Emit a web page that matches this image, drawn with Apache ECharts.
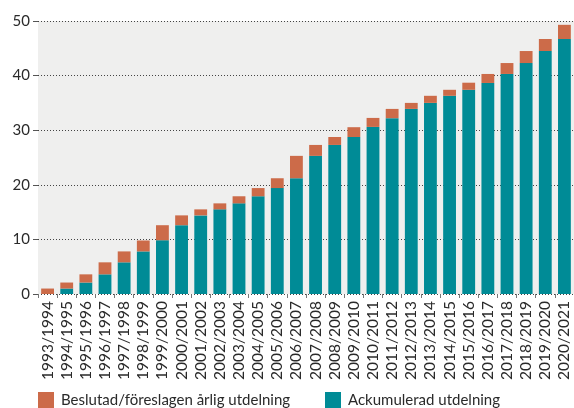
<!DOCTYPE html>
<html><head><meta charset="utf-8">
<script src="https://cdn.jsdelivr.net/npm/echarts@6/dist/echarts.min.js"></script>
<style>html,body{margin:0;padding:0;background:#fff}#c{width:574px;height:408px}</style>
</head><body><div id="c"></div>
<script>
const categories = ["1993/1994","1994/1995","1995/1996","1996/1997","1997/1998","1998/1999","1999/2000","2000/2001","2001/2002","2002/2003","2003/2004","2004/2005","2005/2006","2006/2007","2007/2008","2008/2009","2009/2010","2010/2011","2011/2012","2012/2013","2013/2014","2014/2015","2015/2016","2016/2017","2017/2018","2018/2019","2019/2020","2020/2021"];
const accumulated = [0,1.0,2.1,3.6,5.8,7.8,9.85,12.6,14.4,15.5,16.6,17.9,19.4,21.2,25.3,27.3,28.75,30.6,32.2,33.9,35.0,36.3,37.4,38.65,40.3,42.3,44.5,46.7];
const annual = [1.0,1.1,1.5,2.2,2.0,2.0,2.75,1.8,1.1,1.1,1.3,1.5,1.8,4.1,2.0,1.45,1.8,1.65,1.7,1.1,1.3,1.1,1.3,1.65,2.0,2.2,2.2,2.6];
const yTicks = [0,10,20,30,40,50];
const seriesNames = ["Beslutad/föreslagen årlig utdelning","Ackumulerad utdelning"];

const FONT = "Lato";
const chart = echarts.init(document.getElementById('c'), null, {renderer:'canvas'});
chart.setOption({
  animation:false,
  textStyle:{fontFamily:FONT},
  grid:{left:38, top:21, right:-8, bottom:114, containLabel:false, show:true, backgroundColor:'#efefee', borderWidth:0},
  legend:[
    {left:33, top:387, itemWidth:16, itemHeight:16, itemGap:0, icon:'rect', data:[seriesNames[0]], textStyle:{fontFamily:FONT, fontSize:15, color:'#2a2a2a', padding:[0,0,0,2]}},
    {left:320, top:387, itemWidth:16, itemHeight:16, itemGap:0, icon:'rect', data:[seriesNames[1]], textStyle:{fontFamily:FONT, fontSize:15, color:'#2a2a2a', padding:[0,0,0,2]}}
  ],
  xAxis:{type:'category', data:categories, boundaryGap:true,
    axisLine:{show:false},
    axisTick:{show:true, length:4, lineStyle:{color:'#777'}},
    axisLabel:{rotate:90, fontSize:15.5, color:'#2a2a2a', margin:7, fontFamily:FONT, interval:0}
  },
  yAxis:{type:'value', min:0, max:50, interval:10,
    axisLine:{show:false},
    axisTick:{show:true, length:5, lineStyle:{color:'#555'}},
    axisLabel:{fontSize:15, color:'#2a2a2a', margin:8, fontFamily:FONT,
      formatter:v=>yTicks.includes(v)?String(v):''},
    splitLine:{show:true, lineStyle:{color:'#444', type:[1,2], width:1}}
  },
  series:[
    {name:seriesNames[1], type:'bar', stack:'s', data:accumulated, barWidth:'67%', itemStyle:{color:'#008b96'}},
    {name:seriesNames[0], type:'bar', stack:'s', data:annual, barWidth:'67%', itemStyle:{color:'#cc6b49'}}
  ]
});
</script></body></html>
